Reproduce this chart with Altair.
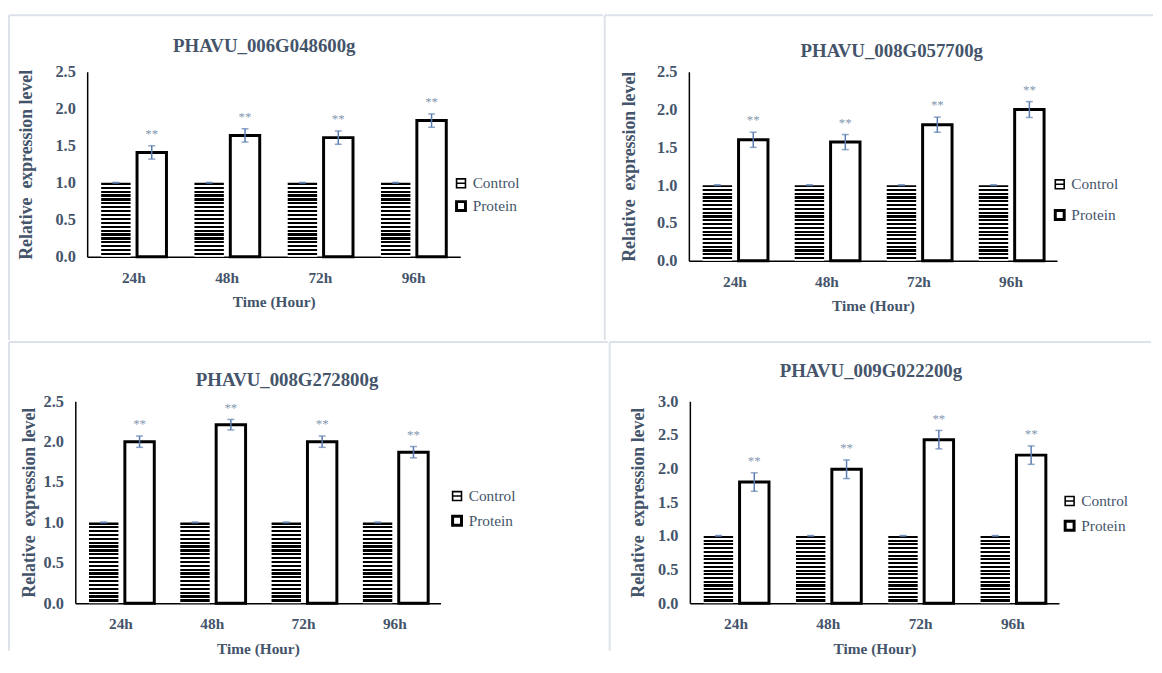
import altair as alt
import pandas as pd

# ---------------- data ----------------
genes = ["PHAVU_006G048600g", "PHAVU_008G057700g", "PHAVU_008G272800g", "PHAVU_009G022200g"]
times = ["24h", "48h", "72h", "96h"]
series = ["Control", "Protein"]

control_mean = [1.0, 1.0, 1.0, 1.0]
control_err = [0.005, 0.005, 0.005, 0.005]

protein_mean_g1 = [1.41, 1.64, 1.61, 1.84]
protein_mean_g2 = [1.60, 1.57, 1.80, 2.00]
protein_mean_g3 = [2.00, 2.21, 2.00, 1.87]
protein_mean_g4 = [1.80, 1.99, 2.43, 2.20]

protein_err_g1 = [0.09, 0.09, 0.09, 0.09]
protein_err_g2 = [0.10, 0.10, 0.10, 0.105]
protein_err_g3 = [0.07, 0.065, 0.07, 0.07]
protein_err_g4 = [0.137, 0.138, 0.137, 0.137]

protein_means = [protein_mean_g1, protein_mean_g2, protein_mean_g3, protein_mean_g4]
protein_errs = [protein_err_g1, protein_err_g2, protein_err_g3, protein_err_g4]
y_max = [2.5, 2.5, 2.5, 3.0]
y_ticks = [[0, 0.5, 1.0, 1.5, 2.0, 2.5]] * 3 + [[0, 0.5, 1.0, 1.5, 2.0, 2.5, 3.0]]
significance = ["**", "**", "**", "**"]

# ---------------- style ----------------
FONT = "Liberation Serif"
TXT = "#44546A"
ERR = "#5B7DB0"
STAR = "#8497B0"
FRAME = "#DDE2EA"

# layout of each panel (plot size, frame offsets, title/legend placement)
# D = blank strip at the left of the view (axis shifted right by D)
P = [
    dict(D=12, w=377, h=187, L=79, T=57, R=144, B=84, tx=179, ty=-20, lx=370, ly=105, rp=3, ytp=20, n=19),
    dict(D=0, w=372, h=191, L=85, T=57, R=97, B=80, tx=205, ty=-15, lx=367, ly=106, rp=11, ytp=18, n=20),
    dict(D=0, w=369, h=204, L=67, T=60, R=169, B=48, tx=214, ty=-15, lx=378, ly=88, rp=5, ytp=5, n=21),
    dict(D=0, w=373, h=204, L=81, T=60, R=93, B=48, tx=183, ty=-25, lx=376, ly=93, rp=5, ytp=10, n=18),
]

CONTROL_PATH = "M-1,-1H1V1H-1Z M-1,0H1"


def stripes(n, frac=0.57):
    stops = []
    for i in range(n):
        a = i / n
        b = (i + frac) / n
        c = (i + 1) / n
        stops += [
            alt.GradientStop(offset=a, color="black"),
            alt.GradientStop(offset=b, color="black"),
            alt.GradientStop(offset=b, color="white"),
            alt.GradientStop(offset=c, color="white"),
        ]
    return alt.LinearGradient(gradient="linear", stops=stops, x1=0, x2=0, y1=0, y2=1)


def panel(i):
    g = genes[i]
    p = P[i]
    D = p["D"]
    rows = []
    for k, t in enumerate(times):
        rows.append(dict(time=t, series="Control", mean=control_mean[k],
                         lo=control_mean[k] - control_err[k], hi=control_mean[k] + control_err[k], sig=""))
        m, e = protein_means[i][k], protein_errs[i][k]
        rows.append(dict(time=t, series="Protein", mean=m, lo=m - e, hi=m + e, sig=significance[k]))
    df = pd.DataFrame(rows)

    w, h = p["w"] + D, p["h"]

    xaxis = alt.Axis(title="Time (Hour)", labelAngle=0, ticks=False, domainColor="black", domainWidth=1.5,
                     labelFont=FONT, labelFontSize=15.5, labelFontWeight="bold", labelColor=TXT, labelPadding=14,
                     titleFont=FONT, titleFontSize=15.5, titleFontWeight="bold", titleColor=TXT, titlePadding=9)
    yaxis = alt.Axis(title="Relative\u00a0 expression level", values=y_ticks[i], format=".1f", ticks=False,
                     grid=False, domainColor="black", domainWidth=1.5, offset=-D,
                     labelFont=FONT, labelFontSize=16.5, labelFontWeight="bold", labelColor=TXT, labelPadding=12,
                     titleFont=FONT, titleFontSize=18, titleFontWeight="bold", titleColor=TXT,
                     titlePadding=p["ytp"])
    xenc = alt.X("time:N", sort=times,
                 scale=alt.Scale(domain=times, paddingInner=0.3, paddingOuter=0.15, range=[D, w]),
                 axis=xaxis)
    xoff = alt.XOffset("series:N", scale=alt.Scale(domain=series, paddingInner=0.18, paddingOuter=0))
    yscale = alt.Scale(domain=[0, y_max[i]], nice=False)

    def yenc(f):
        return alt.Y(f"{f}:Q", scale=yscale, axis=yaxis)

    one = alt.Data(values=[{"gene": g}])

    frame_top = alt.Chart(one).mark_rule(color=FRAME, strokeWidth=2).encode(
        x=alt.value(D - p["L"]), x2=alt.value(w + p["R"]), y=alt.value(-p["T"]))
    frame_left = alt.Chart(one).mark_rule(color=FRAME, strokeWidth=2).encode(
        x=alt.value(D - p["L"]), y=alt.value(-p["T"]), y2=alt.value(h + p["B"]))

    base = alt.Chart(df)
    legend = alt.Legend(
        title=None, orient="none", legendX=p["lx"] + D, legendY=p["ly"], symbolSize=81,
        labelFont=FONT, labelFontSize=15.5, labelColor=TXT, labelOffset=4, rowPadding=p["rp"],
        symbolType=alt.ExprRef(expr=f"datum.value === 'Control' ? '{CONTROL_PATH}' : 'square'"),
        symbolStrokeWidth=alt.ExprRef(expr="datum.value === 'Control' ? 1.6 : 3"),
        symbolFillColor="white", symbolStrokeColor="black",
    )
    ctrl = base.transform_filter("datum.series == 'Control'").mark_bar(
        fill=stripes(p["n"]), strokeWidth=0).encode(x=xenc, xOffset=xoff, y=yenc("mean"))
    prot = base.transform_filter("datum.series == 'Protein'").mark_bar(
        fill="white", strokeWidth=3).encode(
        x=xenc, xOffset=xoff, y=yenc("mean"),
        stroke=alt.Stroke("series:N", scale=alt.Scale(domain=series, range=["black", "black"]), legend=legend))
    err = base.mark_rule(color=ERR, strokeWidth=1.5).encode(
        x=xenc, xOffset=xoff, y=yenc("lo"), y2=alt.Y2("hi:Q"))
    cap_hi = base.mark_tick(color=ERR, size=7, thickness=1.5).encode(x=xenc, xOffset=xoff, y=yenc("hi"))
    cap_lo = base.mark_tick(color=ERR, size=7, thickness=1.5).encode(x=xenc, xOffset=xoff, y=yenc("lo"))
    stars = base.transform_filter("datum.series == 'Protein'").mark_text(
        font=FONT, fontSize=13, color=STAR, baseline="middle", dy=-12).encode(
        x=xenc, xOffset=xoff, y=yenc("hi"), text="sig:N")
    title = alt.Chart(one).mark_text(
        font=FONT, fontSize=19, fontWeight="bold", color=TXT, align="center", baseline="alphabetic").encode(
        x=alt.value(p["tx"] + D), y=alt.value(p["ty"]), text="gene:N")

    return alt.layer(frame_top, frame_left, ctrl, prot, err, cap_hi, cap_lo, stars, title).properties(
        width=w, height=h)


row1 = alt.hconcat(panel(0), panel(1), spacing=0).resolve_scale(stroke="independent").resolve_legend(
    stroke="independent")
row2 = alt.hconcat(panel(2), panel(3), spacing=0).resolve_scale(stroke="independent").resolve_legend(
    stroke="independent")
chart = alt.vconcat(row1, row2, spacing=0).resolve_scale(
    stroke="independent").resolve_legend(stroke="independent").properties(
    padding={"left": 0, "top": 3, "right": 0, "bottom": 0}
).configure_view(stroke=None)

chart.save("out.html", embed_options={"renderer": "svg", "actions": False})
